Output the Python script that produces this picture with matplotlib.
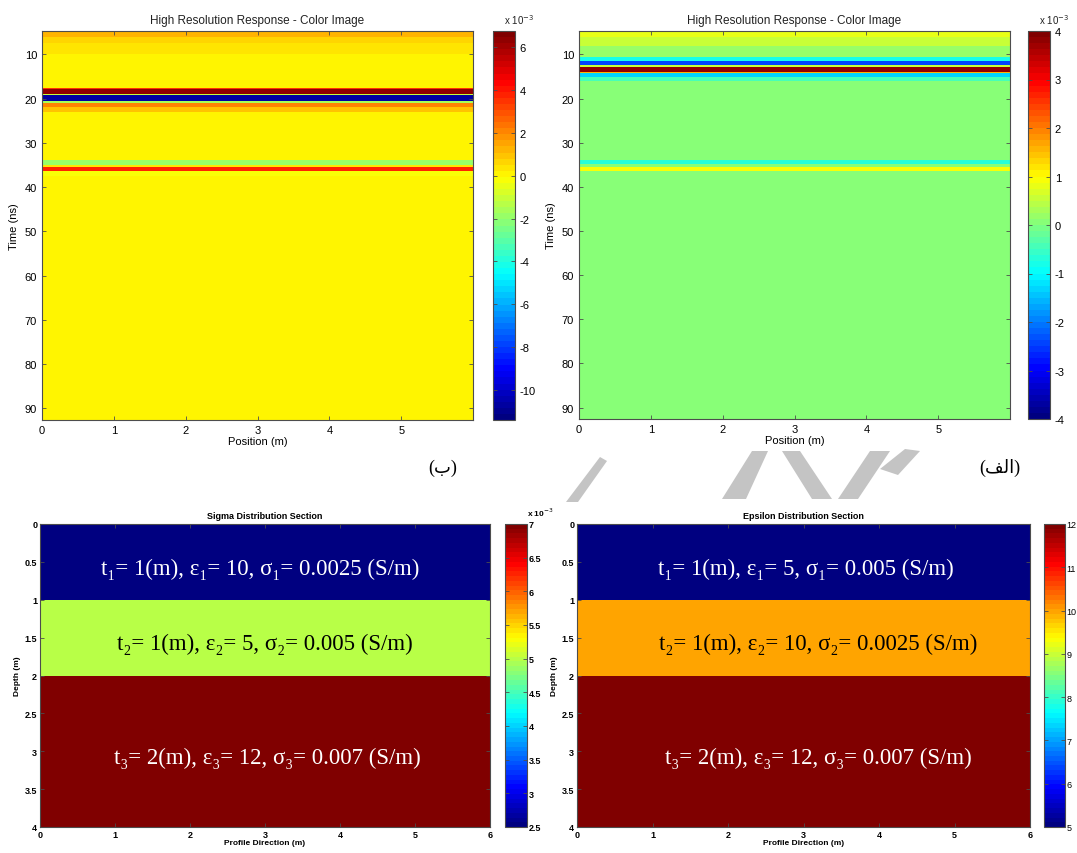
import matplotlib
matplotlib.use("Agg")
import matplotlib.pyplot as plt
import numpy as np
from matplotlib.colors import LinearSegmentedColormap
from matplotlib.ticker import FuncFormatter
from matplotlib.patches import Polygon

# ---------------- данные ----------------
# профиль (м): одна трасса на весь профиль
pos_edges = [0, 6]

# время (нс): границы полос на радарограммах
time_b = [4.7, 6, 7.5, 10, 17.5, 17.9, 18.9, 19.2, 20.6, 20.9, 21.9, 23,
          33.9, 35.0, 35.4, 36.4, 37.5, 92.6]
amp_b = [1.2, 0.7, 0.3, 0.15, 3.5, 6.3, -1.0, -10.8, -1.5, 2.2, 0.8, 0.1,
         -2.0, 0.3, 3.8, -0.3, 0.0]          # x 1e-3

time_a = [4.7, 6, 8, 10.5, 11.4, 12.3, 12.8, 13.9, 14.2, 15.1, 16,
          34.0, 34.9, 35.4, 36.4, 92.6]
amp_a = [0.8, 0.5, 0.2, -0.8, -2.4, 0.5, 3.8, 1.5, -1.3, -0.4, 0.0,
         -0.7, 0.0, 0.9, 0.0]                # x 1e-3

# модели: глубина (м), проводимость (См/м), диэлектрическая проницаемость
depth_edges = [0, 1, 2, 4]
sigma_b = [0.0025, 0.005, 0.007]
eps_a = [5, 10, 12]

labels_b = ["t\u2081= 1(m), \u03b5\u2081= 10, \u03c3\u2081= 0.0025 (S/m)",
            "t\u2082= 1(m), \u03b5\u2082= 5, \u03c3\u2082= 0.005 (S/m)",
            "t\u2083= 2(m), \u03b5\u2083= 12, \u03c3\u2083= 0.007 (S/m)"]
labels_a = ["t\u2081= 1(m), \u03b5\u2081= 5, \u03c3\u2081= 0.005 (S/m)",
            "t\u2082= 1(m), \u03b5\u2082= 10, \u03c3\u2082= 0.0025 (S/m)",
            "t\u2083= 2(m), \u03b5\u2083= 12, \u03c3\u2083= 0.007 (S/m)"]

# ---------------- оформление ----------------
W, H = 1077, 854
plt.rcParams["font.family"] = ["Liberation Sans", "DejaVu Sans"]
serif = ["Liberation Serif", "DejaVu Serif"]
arabic = ["Liberation Serif", "DejaVu Sans", "Noto Sans", "DejaVu Serif"]
frame_col = "#4d4d4d"

# палитра jet как в MATLAB
cdict = {"red": [(0, 0, 0), (3/8, 0, 0), (5/8, 1, 1), (7/8, 1, 1), (1, 0.5, 0.5)],
         "green": [(0, 0, 0), (1/8, 0, 0), (3/8, 1, 1), (5/8, 1, 1), (7/8, 0, 0), (1, 0, 0)],
         "blue": [(0, 0.5, 0.5), (1/8, 1, 1), (3/8, 1, 1), (5/8, 0, 0), (1, 0, 0)]}
jet = LinearSegmentedColormap("jet_matlab", cdict, N=64)

fig = plt.figure(figsize=(W / 100, H / 100), dpi=100)


def px_axes(x0, y0, x1, y1):
    # оси по пиксельным координатам
    return fig.add_axes([x0 / W, 1 - y1 / H, (x1 - x0) / W, (y1 - y0) / H])


def style_frame(ax):
    for s in ax.spines.values():
        s.set_color(frame_col)
        s.set_linewidth(0.8)


def draw_radar(ax, cax, t_edges, amp, vmin, vmax, cticks):
    c = np.array(amp)[:, None] * 1e-3
    m = ax.pcolormesh(pos_edges, t_edges, c, cmap=jet, vmin=vmin, vmax=vmax, shading="flat")
    ax.set_xlim(0, 6)
    ax.set_ylim(92.6, 4.7)
    ax.set_xticks([0, 1, 2, 3, 4, 5])
    ax.set_yticks(range(10, 91, 10))
    ax.tick_params(direction="in", top=True, right=True, labelsize=8, length=3,
                   color=frame_col, width=0.6)
    ax.set_title("High Resolution Response - Color Image", fontsize=8.5, pad=6, color="#222222")
    ax.set_xlabel("Position (m)", fontsize=8, labelpad=1)
    ax.set_ylabel("Time (ns)", fontsize=8, labelpad=4)
    style_frame(ax)
    cb = fig.colorbar(m, cax=cax, ticks=cticks)
    cax.yaxis.set_major_formatter(FuncFormatter(lambda v, p: "%g" % round(v * 1e3, 3)))
    cax.tick_params(direction="in", left=True, right=True, labelsize=8, length=3,
                    color=frame_col, width=0.6)
    cb.outline.set_edgecolor(frame_col)
    cb.outline.set_linewidth(0.8)
    cax.text(0.5, 1.012, r"x 10$^{-3}$", transform=cax.transAxes, fontsize=7,
             ha="left", va="bottom", color="#222222")


def draw_model(ax, cax, vals, vmin, vmax, cticks, labels, text_cols, text_x, title, offset):
    c = np.array(vals)[:, None]
    m = ax.pcolormesh([0, 6], depth_edges, c, cmap=jet, vmin=vmin, vmax=vmax, shading="flat")
    ax.set_xlim(0, 6)
    ax.set_ylim(4, 0)
    ax.set_xticks(range(0, 7))
    ax.set_yticks(np.arange(0, 4.01, 0.5))
    ax.yaxis.set_major_formatter(FuncFormatter(lambda v, p: "%g" % v))
    ax.tick_params(direction="in", top=True, right=True, labelsize=6.5, length=3,
                   color=frame_col, width=0.6, pad=2)
    for lab in ax.get_xticklabels() + ax.get_yticklabels():
        lab.set_fontweight("bold")
    ax.set_title(title, fontsize=6.5, fontweight="bold", pad=4)
    ax.set_xlabel("Profile Direction (m)", fontsize=6, fontweight="bold", labelpad=0)
    ax.set_ylabel("Depth (m)", fontsize=6, fontweight="bold", labelpad=3)
    style_frame(ax)
    centers = [(depth_edges[i] + depth_edges[i + 1]) / 2 for i in range(len(vals))]
    for lab, yc, col, xc in zip(labels, centers, text_cols, text_x):
        ax.text(xc, yc + 0.08, lab, ha="center", va="center", fontsize=16.5,
                color=col, family=serif)
    cb = fig.colorbar(m, cax=cax, ticks=cticks)
    cax.yaxis.set_major_formatter(FuncFormatter(
        lambda v, p: "%g" % round(v * 1e3, 3) if offset else "%g" % v))
    cax.tick_params(direction="in", left=True, right=True, labelsize=6.5, length=3,
                    color=frame_col, width=0.6, pad=1)
    if offset:
        for lab in cax.get_yticklabels():
            lab.set_fontweight("bold")
    cb.outline.set_edgecolor(frame_col)
    cb.outline.set_linewidth(0.8)
    if offset:
        cax.text(1.0, 1.02, r"x 10$^{-3}$", transform=cax.transAxes, fontsize=6,
                 ha="left", va="bottom", fontweight="bold")


# ---- радарограмма (ب) ----
ax1 = px_axes(42, 32, 473, 421)
cax1 = px_axes(493, 32, 515, 421)
draw_radar(ax1, cax1, time_b, amp_b, -11.4e-3, 6.75e-3,
           [v * 1e-3 for v in (-10, -8, -6, -4, -2, 0, 2, 4, 6)])

# ---- радарограмма (الف) ----
ax2 = px_axes(579, 32, 1010, 420)
cax2 = px_axes(1028, 32, 1050, 420)
draw_radar(ax2, cax2, time_a, amp_a, -4e-3, 4e-3,
           [v * 1e-3 for v in (-4, -3, -2, -1, 0, 1, 2, 3, 4)])

# ---- модель проводимости ----
ax3 = px_axes(40, 525, 490, 828)
cax3 = px_axes(505, 525, 527, 828)
draw_model(ax3, cax3, sigma_b, 0.0025, 0.007,
           [v * 1e-3 for v in (2.5, 3, 3.5, 4, 4.5, 5, 5.5, 6, 6.5, 7)],
           labels_b, ["white", "black", "white"], [2.93, 3.0, 3.03],
           "Sigma Distribution Section", True)

# ---- модель проницаемости ----
ax4 = px_axes(577, 525, 1030, 828)
cax4 = px_axes(1044, 525, 1065, 828)
draw_model(ax4, cax4, eps_a, 5, 12, list(range(5, 13)),
           labels_a, ["white", "black", "white"], [3.03, 3.2, 3.2],
           "Epsilon Distribution Section", False)

# подписи рисунков
fig.text(443 / W, 1 - 468 / H, "(\u0628)", fontsize=13, family=arabic,
         ha="center", va="center")
fig.text(1000 / W, 1 - 468 / H, "(\ufed2\ufedf\ufe8d)", fontsize=13, family=arabic,
         ha="center", va="center")

# водяной знак
wm = "#c4c4c4"
shapes = [
    [(566, 503), (600, 458), (607, 462), (578, 503)],
    [(722, 500), (752, 452), (768, 452), (746, 500)],
    [(782, 452), (800, 452), (832, 500), (812, 500)],
    [(838, 500), (870, 452), (890, 452), (858, 500)],
    [(880, 470), (905, 450), (920, 452), (898, 476)],
]
for pts in shapes:
    fig.patches.append(Polygon([(x / W, 1 - y / H) for x, y in pts], closed=True,
                               transform=fig.transFigure, facecolor=wm,
                               edgecolor="none", zorder=-1))

fig.savefig("out.png", dpi=100)
